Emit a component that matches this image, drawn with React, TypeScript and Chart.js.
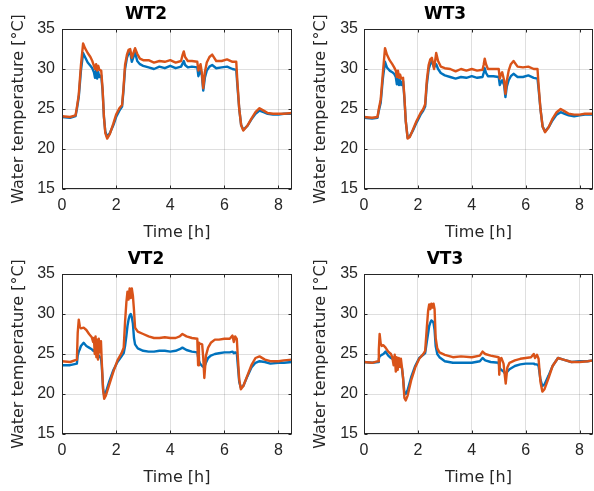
import React, { useEffect, useRef } from "react";
import { Chart, registerables } from "chart.js";

Chart.register(...registerables);

const TICK_FONT = "'Liberation Sans', Arial, Helvetica, sans-serif";
const LABEL_FONT = "'DejaVu Sans', 'Liberation Sans', Arial, sans-serif";
const BLUE = "#0072BD";
const ORANGE = "#D95319";
const AXIS = "#262626";
const GRID = "rgba(38,38,38,0.15)";

const X_TICKS = [0, 2, 4, 6, 8];
const Y_TICKS = [15, 20, 25, 30, 35];
const Y_LABEL = "Water temperature [°C]";
const X_LABEL = "Time [h]";

// ---- WT2 ----
const WT2_T = [0, 0.3, 0.5, 0.55, 0.62, 0.7, 0.78, 0.85, 0.95, 1.05, 1.12, 1.18, 1.22, 1.26, 1.3, 1.34, 1.38, 1.45, 1.5, 1.55, 1.6, 1.67, 1.77, 1.9, 2.0, 2.12, 2.22, 2.27, 2.33, 2.4, 2.46, 2.52, 2.58, 2.64, 2.7, 2.78, 2.88, 3.0, 3.2, 3.4, 3.6, 3.8, 4.0, 4.2, 4.4, 4.46, 4.5, 4.55, 4.65, 4.8, 5.0, 5.04, 5.08, 5.12, 5.17, 5.22, 5.28, 5.35, 5.45, 5.55, 5.7, 5.9, 6.1, 6.3, 6.44, 6.48, 6.55, 6.62, 6.7, 6.85, 7.0, 7.15, 7.3, 7.45, 7.6, 7.8, 8.0, 8.2, 8.5];
const WT2_ORANGE = [24.1, 24.0, 24.2, 25.2, 26.8, 30.5, 33.2, 32.6, 32.0, 31.5, 31.0, 30.4, 30.0, 30.6, 29.8, 30.4, 29.9, 29.8, 27.5, 24.0, 22.0, 21.3, 21.9, 23.2, 24.3, 25.1, 25.5, 27.5, 30.5, 31.8, 32.4, 32.5, 31.4, 32.0, 32.6, 31.9, 31.3, 31.1, 31.1, 30.8, 31.0, 30.9, 31.1, 30.8, 31.0, 31.8, 32.2, 31.5, 31.0, 31.0, 30.9, 29.8, 30.2, 30.6, 29.5, 27.6, 29.6, 30.8, 31.5, 31.8, 31.0, 31.0, 31.2, 30.9, 30.9, 28.5, 25.0, 23.0, 22.3, 22.9, 23.8, 24.6, 25.1, 24.8, 24.5, 24.4, 24.4, 24.4, 24.5];
const WT2_BLUE = [24.0, 23.9, 24.1, 25.0, 26.5, 29.8, 32.0, 31.5, 30.8, 30.4, 30.1, 29.6, 28.9, 29.8, 28.8, 29.6, 29.0, 29.2, 27.3, 24.0, 22.2, 21.5, 22.0, 23.0, 24.0, 24.8, 25.3, 27.2, 30.0, 31.4, 32.0, 32.1, 30.9, 31.5, 32.1, 31.0, 30.6, 30.4, 30.2, 30.0, 30.3, 30.1, 30.4, 30.1, 30.3, 30.7, 31.0, 30.5, 30.2, 30.3, 30.2, 29.1, 29.5, 29.9, 29.2, 27.3, 28.9, 29.8, 30.3, 30.5, 30.1, 30.2, 30.3, 30.0, 29.9, 28.0, 25.0, 23.0, 22.4, 22.9, 23.7, 24.4, 24.8, 24.6, 24.4, 24.3, 24.3, 24.4, 24.4];

// ---- WT3 ----
const WT3_T = [0, 0.3, 0.5, 0.55, 0.62, 0.7, 0.78, 0.85, 0.95, 1.05, 1.12, 1.18, 1.22, 1.26, 1.3, 1.34, 1.38, 1.45, 1.5, 1.55, 1.62, 1.7, 1.8, 1.95, 2.1, 2.2, 2.27, 2.33, 2.4, 2.46, 2.52, 2.6, 2.68, 2.75, 2.85, 3.0, 3.2, 3.4, 3.6, 3.8, 4.0, 4.2, 4.4, 4.44, 4.48, 4.53, 4.6, 4.8, 5.0, 5.04, 5.08, 5.13, 5.2, 5.25, 5.3, 5.37, 5.45, 5.55, 5.7, 5.9, 6.1, 6.3, 6.44, 6.48, 6.55, 6.63, 6.72, 6.85, 7.0, 7.15, 7.3, 7.45, 7.6, 7.8, 8.0, 8.2, 8.5];
const WT3_ORANGE = [24.0, 23.9, 24.0, 25.0, 26.2, 29.5, 32.6, 31.8, 31.1, 30.6, 30.2, 29.8, 29.0, 29.8, 28.9, 29.3, 28.8, 28.9, 26.5, 23.5, 21.3, 21.5, 22.3, 23.5, 24.5, 25.0, 25.6, 28.5, 30.5, 31.2, 31.4, 30.0, 32.0, 31.0, 30.3, 30.1, 30.0, 29.7, 30.0, 29.8, 30.0, 29.8, 29.9, 30.5, 31.3, 30.6, 30.0, 30.0, 30.0, 28.8, 29.3, 29.6, 28.6, 26.9, 28.5, 29.8, 30.6, 31.0, 30.3, 30.2, 30.3, 30.0, 30.0, 28.0, 25.0, 22.8, 22.1, 22.7, 23.8, 24.6, 25.0, 24.7, 24.4, 24.3, 24.3, 24.4, 24.4];
const WT3_BLUE = [23.9, 23.8, 23.9, 24.8, 25.8, 28.8, 30.9, 30.2, 29.8, 29.6, 29.4, 29.0, 28.1, 29.0, 28.0, 28.6, 28.0, 28.5, 26.3, 23.5, 21.4, 21.6, 22.2, 23.3, 24.3, 24.8, 25.3, 28.0, 30.0, 30.6, 31.0, 30.2, 30.6, 30.0, 29.5, 29.2, 29.0, 28.8, 29.0, 28.9, 29.1, 28.9, 29.0, 29.5, 30.1, 29.5, 29.1, 29.1, 29.0, 28.0, 28.3, 28.6, 28.0, 26.5, 27.8, 28.6, 29.1, 29.4, 29.0, 29.0, 29.2, 28.9, 28.8, 27.5, 25.0, 22.8, 22.2, 22.7, 23.6, 24.3, 24.6, 24.4, 24.2, 24.1, 24.2, 24.3, 24.3];

// ---- VT2 ----
const VT2_T = [0, 0.3, 0.55, 0.58, 0.62, 0.66, 0.7, 0.8, 0.9, 1.0, 1.1, 1.15, 1.18, 1.21, 1.24, 1.27, 1.3, 1.33, 1.36, 1.4, 1.44, 1.47, 1.52, 1.56, 1.62, 1.75, 1.9, 2.05, 2.2, 2.28, 2.33, 2.38, 2.42, 2.46, 2.5, 2.54, 2.58, 2.62, 2.66, 2.7, 2.8, 3.0, 3.2, 3.4, 3.6, 3.8, 4.0, 4.2, 4.35, 4.45, 4.6, 4.8, 5.0, 5.03, 5.06, 5.1, 5.18, 5.22, 5.26, 5.32, 5.4, 5.5, 5.65, 5.8, 6.0, 6.2, 6.3, 6.35, 6.4, 6.46, 6.5, 6.55, 6.61, 6.7, 6.85, 7.0, 7.15, 7.3, 7.5, 7.7, 8.0, 8.2, 8.5];
const VT2_ORANGE = [24.1, 24.0, 24.3, 27.6, 29.3, 28.4, 28.2, 28.3, 28.0, 27.5, 27.1, 26.5, 27.0, 25.0, 27.2, 24.6, 26.8, 24.3, 26.9, 25.2, 26.6, 24.0, 20.5, 19.4, 19.8, 21.2, 22.8, 24.2, 25.1, 25.8, 29.0, 31.5, 32.8, 31.8, 33.2, 32.0, 33.2, 32.3, 30.5, 28.3, 27.8, 27.5, 27.2, 27.0, 27.0, 27.1, 27.0, 27.0, 27.2, 27.5, 27.2, 27.0, 26.9, 23.6, 26.4, 26.3, 26.2, 24.5, 22.0, 24.8, 25.8, 26.4, 26.8, 26.8, 26.9, 26.9, 27.3, 26.5, 27.2, 26.9, 24.5, 21.8, 20.6, 21.0, 22.3, 23.6, 24.5, 24.7, 24.3, 24.1, 24.1, 24.2, 24.3];
const VT2_BLUE = [23.6, 23.6, 23.8, 24.8, 25.3, 25.6, 26.0, 26.4, 26.0, 25.8, 25.6, 25.4, 25.5, 25.3, 25.2, 25.0, 25.0, 24.8, 24.8, 24.6, 24.5, 23.5, 20.6, 19.8, 20.2, 21.6, 23.0, 24.0, 24.7, 25.1, 26.0, 27.3, 28.5, 29.3, 29.8, 30.0, 29.6, 28.8, 27.0, 26.2, 25.7, 25.4, 25.3, 25.3, 25.4, 25.4, 25.3, 25.4, 25.6, 25.8, 25.5, 25.3, 25.2, 24.6, 24.2, 23.8, 23.5, 23.4, 23.4, 23.9, 24.5, 24.8, 25.0, 25.1, 25.2, 25.2, 25.3, 25.1, 25.2, 25.1, 23.5, 21.5, 20.8, 21.0, 22.2, 23.3, 23.9, 24.1, 24.0, 23.8, 23.9, 23.9, 24.0];

// ---- VT3 ----
const VT3_T = [0, 0.3, 0.52, 0.55, 0.58, 0.62, 0.66, 0.72, 0.8, 0.9, 1.0, 1.05, 1.1, 1.14, 1.18, 1.21, 1.25, 1.29, 1.33, 1.37, 1.41, 1.45, 1.5, 1.55, 1.62, 1.75, 1.9, 2.05, 2.2, 2.27, 2.33, 2.38, 2.42, 2.46, 2.5, 2.54, 2.58, 2.62, 2.66, 2.72, 2.8, 3.0, 3.3, 3.6, 4.0, 4.3, 4.4, 4.5, 4.7, 5.0, 5.02, 5.05, 5.1, 5.18, 5.22, 5.26, 5.32, 5.4, 5.6, 5.8, 6.0, 6.2, 6.3, 6.35, 6.42, 6.48, 6.55, 6.62, 6.7, 6.85, 7.0, 7.2, 7.4, 7.7, 8.0, 8.3, 8.5];
const VT3_ORANGE = [24.0, 23.9, 24.1, 25.5, 27.5, 26.3, 26.0, 26.1, 25.8, 25.3, 25.0, 24.6, 23.6, 24.9, 22.8, 24.6, 23.0, 24.5, 23.4, 24.4, 23.3, 22.0, 19.5, 19.2, 19.8, 21.7, 23.3, 24.4, 25.0, 25.4, 28.2, 30.4, 31.2, 30.6, 31.3, 30.8, 31.3, 30.6, 27.0, 25.7, 25.2, 24.9, 24.6, 24.7, 24.6, 24.8, 25.3, 25.0, 24.8, 24.6, 22.4, 24.4, 24.5, 23.8, 22.5, 21.3, 23.3, 23.9, 24.2, 24.4, 24.5, 24.6, 25.0, 24.5, 24.9, 24.4, 21.5, 20.3, 20.6, 22.0, 23.5, 24.5, 24.3, 24.0, 24.0, 24.1, 24.2];
const VT3_BLUE = [24.0, 23.9, 24.0, 24.4, 24.7, 24.8, 24.9, 25.0, 25.3, 24.8, 24.5, 24.4, 24.3, 24.2, 24.1, 24.0, 23.9, 23.8, 23.7, 23.5, 23.2, 22.0, 20.1, 20.0, 20.5, 22.1, 23.5, 24.5, 24.9, 25.1, 26.5, 27.6, 28.5, 28.9, 29.2, 29.1, 28.9, 28.0, 26.0, 25.0, 24.6, 24.1, 23.9, 23.9, 23.9, 24.1, 24.5, 24.2, 24.0, 23.9, 23.5, 23.2, 23.0, 22.8, 22.6, 22.6, 22.8, 23.1, 23.5, 23.7, 23.8, 23.8, 23.8, 23.7, 23.7, 23.5, 21.8, 21.0, 21.2, 22.3, 23.5, 24.5, 24.3, 24.0, 24.1, 24.1, 24.2];

const boxPlugin = {
  id: "matlabBox",
  afterDraw(chart: any) {
    const { ctx, chartArea: a, scales } = chart;
    ctx.save();
    ctx.strokeStyle = AXIS;
    ctx.lineWidth = 1;
    const L = Math.round(a.left) + 0.5;
    const R = Math.round(a.right) - 0.5;
    const T = Math.round(a.top) + 0.5;
    const B = Math.round(a.bottom) - 0.5;
    ctx.strokeRect(L, T, R - L, B - T);
    const tl = 3;
    ctx.beginPath();
    scales.x.ticks.forEach((t: any) => {
      const px = Math.round(scales.x.getPixelForValue(t.value)) + 0.5;
      ctx.moveTo(px, B);
      ctx.lineTo(px, B - tl);
      ctx.moveTo(px, T);
      ctx.lineTo(px, T + tl);
    });
    scales.y.ticks.forEach((t: any) => {
      const py = Math.round(scales.y.getPixelForValue(t.value)) + 0.5;
      ctx.moveTo(L, py);
      ctx.lineTo(L + tl, py);
      ctx.moveTo(R, py);
      ctx.lineTo(R - tl, py);
    });
    ctx.stroke();
    ctx.restore();
  },
};

type PanelProps = {
  title: string;
  t: number[];
  blue: number[];
  orange: number[];
  left: number;
  top: number;
  yAxisWidth: number;
  rightPad: number;
  yTitlePad: number;
  yTickPad: number;
};

const W = 297;
const H = 245;

function Panel({ title, t, blue, orange, left, top, yAxisWidth, rightPad, yTitlePad, yTickPad }: PanelProps) {
  const ref = useRef<HTMLCanvasElement | null>(null);
  useEffect(() => {
    if (!ref.current) return;
    const lineStyle = {
      borderWidth: 2.4,
      pointRadius: 0,
      tension: 0,
      fill: false,
      borderJoinStyle: "round" as const,
      borderCapStyle: "round" as const,
    };
    const chart = new Chart(ref.current, {
      type: "line",
      data: {
        datasets: [
          {
            label: "blue",
            data: t.map((x, i) => ({ x, y: blue[i] })),
            borderColor: BLUE,
            order: 1,
            ...lineStyle,
          },
          {
            label: "orange",
            data: t.map((x, i) => ({ x, y: orange[i] })),
            borderColor: ORANGE,
            order: 0,
            ...lineStyle,
          },
        ],
      },
      options: {
        responsive: false,
        animation: false,
        devicePixelRatio: 1,
        layout: { padding: { left: 0, right: rightPad, top: 0, bottom: 0 } },
        plugins: {
          legend: { display: false },
          tooltip: { enabled: false },
          title: {
            display: true,
            text: title,
            color: "#000",
            font: { family: LABEL_FONT, size: 17, weight: "bold", lineHeight: 1.2 },
            padding: { top: 4, bottom: 4.6 },
          },
        },
        scales: {
          x: {
            type: "linear",
            min: 0,
            max: 8.5,
            afterBuildTicks: (scale: any) => {
              scale.ticks = X_TICKS.map((v) => ({ value: v }));
            },
            afterFit: (scale: any) => {
              scale.height = 56;
            },
            ticks: {
              color: AXIS,
              font: { family: TICK_FONT, size: 16, lineHeight: 1.2 },
              padding: 7,
              maxRotation: 0,
              autoSkip: false,
            },
            grid: { color: GRID, drawTicks: false, lineWidth: 1 },
            border: { display: false },
            title: {
              display: true,
              text: X_LABEL,
              color: AXIS,
              font: { family: LABEL_FONT, size: 16, lineHeight: 1.2 },
              padding: { top: 0, bottom: 3 },
            },
          },
          y: {
            type: "linear",
            min: 15,
            max: 35,
            afterBuildTicks: (scale: any) => {
              scale.ticks = Y_TICKS.map((v) => ({ value: v }));
            },
            afterFit: (scale: any) => {
              scale.width = yAxisWidth;
            },
            ticks: {
              color: AXIS,
              font: { family: TICK_FONT, size: 16, lineHeight: 1.2 },
              padding: yTickPad,
              autoSkip: false,
            },
            grid: { color: GRID, drawTicks: false, lineWidth: 1 },
            border: { display: false },
            title: {
              display: true,
              text: Y_LABEL,
              color: AXIS,
              font: { family: LABEL_FONT, size: 16, lineHeight: 1.2 },
              padding: { top: yTitlePad, bottom: 0 },
            },
          },
        },
      },
      plugins: [boxPlugin],
    });
    return () => chart.destroy();
  }, []);
  return (
    <canvas
      ref={ref}
      width={W}
      height={H}
      style={{ position: "absolute", left, top, width: W, height: H }}
    />
  );
}

export default function App() {
  return (
    <div
      style={{
        position: "fixed",
        left: 0,
        top: 0,
        width: 594,
        height: 491,
        background: "#fff",
        overflow: "hidden",
      }}
    >
      <Panel title="WT2" t={WT2_T} blue={WT2_BLUE} orange={WT2_ORANGE} left={0} top={0} yAxisWidth={62} rightPad={5} yTitlePad={9} yTickPad={7} />
      <Panel title="WT3" t={WT3_T} blue={WT3_BLUE} orange={WT3_ORANGE} left={297} top={0} yAxisWidth={67} rightPad={1} yTitlePad={14} yTickPad={6} />
      <Panel title="VT2" t={VT2_T} blue={VT2_BLUE} orange={VT2_ORANGE} left={0} top={245} yAxisWidth={62} rightPad={5} yTitlePad={9} yTickPad={7} />
      <Panel title="VT3" t={VT3_T} blue={VT3_BLUE} orange={VT3_ORANGE} left={297} top={245} yAxisWidth={67} rightPad={1} yTitlePad={14} yTickPad={6} />
    </div>
  );
}
